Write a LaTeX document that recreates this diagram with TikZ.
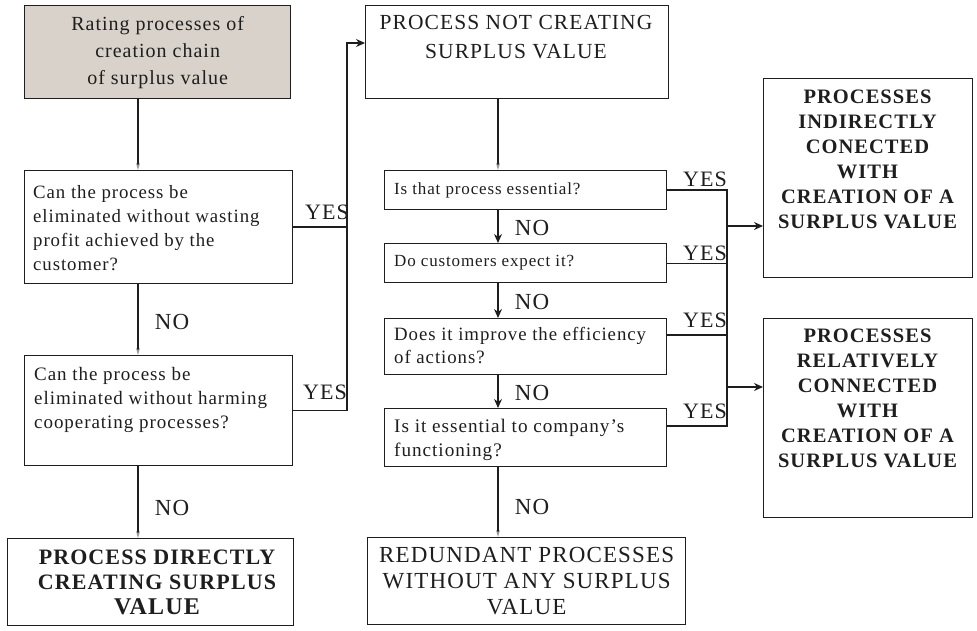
\documentclass[tikz,border=0pt]{standalone}
\usepackage{fontspec}
\setmainfont[LetterSpace=5]{Liberation Serif}
\usetikzlibrary{arrows.meta,calc}
\definecolor{lc}{RGB}{30,30,30}
\definecolor{boxfill}{RGB}{216,210,202}
\tikzset{
  box/.style={draw=lc, line width=1.3pt, inner sep=0pt, anchor=north west},
  txt/.style={inner sep=0pt, text=lc},
  lbl/.style={inner sep=0pt, text=lc, font=\fontsize{22}{24}\selectfont},
  nolbl/.style={inner sep=0pt, text=lc, font=\fontsize{23}{24}\selectfont},
  conn/.style={draw=lc, line width=1.3pt},
  bigarrow/.style={-{Stealth[length=9pt,width=8pt]}},
  faint/.style={-{Stealth[length=7pt,width=4pt,color=gray!80]}},
}
\begin{document}
\begin{tikzpicture}[x=1pt,y=-1pt]
\useasboundingbox (0,0) rectangle (977,631);
% left column
\node[box, fill=boxfill, minimum width=266, minimum height=93, align=center,
      text=lc, font=\fontsize{20}{27}\selectfont] (b1) at (24,5)
      {Rating processes of\\creation chain\\of surplus value};
\node[box, minimum width=268, minimum height=113] (b2) at (24,170) {};
\node[txt, anchor=west, align=left, font=\fontsize{18.8}{24}\selectfont] (t2) at (33,228)
      {Can the process be\\eliminated without wasting\\profit achieved by the\\customer?};
\node[box, minimum width=268, minimum height=110] (b3) at (24,355) {};
\node[txt, anchor=north west, align=left, font=\fontsize{19}{24}\selectfont] (t3) at (34,367)
      {Can the process be\\eliminated without harming\\cooperating processes?};
\node[box, minimum width=286, minimum height=87] (b4) at (7,538) {};
\node[txt, align=center, font=\bfseries\fontsize{22}{25}\selectfont] (t4) at (157,582)
      {PROCESS DIRECTLY\\CREATING SURPLUS\\{\fontsize{24}{25}\selectfont VALUE}};
% middle column
\node[box, minimum width=303, minimum height=93] (b5) at (365,5) {};
\node[txt, anchor=north, align=center, font=\fontsize{21.5}{29}\selectfont] (t5) at (516,15)
      {PROCESS NOT CREATING\\SURPLUS VALUE};
\node[box, minimum width=282, minimum height=39] (b6) at (384,170) {};
\node[txt, anchor=west, font=\fontsize{17}{20}\selectfont] (t6) at (394,190)
      {Is that process essential?};
\node[box, minimum width=282, minimum height=39] (b7) at (384,243) {};
\node[txt, anchor=west, font=\fontsize{17}{20}\selectfont] (t7) at (394,263)
      {Do customers expect it?};
\node[box, minimum width=282, minimum height=56] (b8) at (384,318) {};
\node[txt, anchor=west, align=left, font=\fontsize{18.8}{23}\selectfont] (t8) at (394,346)
      {Does it improve the efficiency\\of actions?};
\node[box, minimum width=282, minimum height=58] (b9) at (384,408) {};
\node[txt, anchor=west, align=left, font=\fontsize{19.2}{24}\selectfont] (t9) at (394,440)
      {Is it essential to company's\\functioning?};
\node[box, minimum width=318, minimum height=87, align=center, text=lc,
      font=\fontsize{23}{26}\selectfont] (b10) at (367,537)
      {REDUNDANT PROCESSES\\WITHOUT ANY SURPLUS\\VALUE};
% right column
\node[box, minimum width=209, minimum height=199] (b11) at (763,78) {};
\node[txt, anchor=north, align=center, font=\bfseries\fontsize{20.5}{25}\selectfont] (t11) at (867.5,90)
      {PROCESSES\\INDIRECTLY\\CONECTED\\WITH\\CREATION OF A\\SURPLUS VALUE};
\node[box, minimum width=209, minimum height=199] (b12) at (763,318) {};
\node[txt, anchor=north, align=center, font=\bfseries\fontsize{20.5}{25}\selectfont] (t12) at (867.5,329)
      {PROCESSES\\RELATIVELY\\CONNECTED\\WITH\\CREATION OF A\\SURPLUS VALUE};
% helper coordinates
\coordinate (lx) at (138,0);
\coordinate (jx) at (347,0);
\coordinate (mx) at (498,0);
\coordinate (rx) at (727,0);
\coordinate (b5in) at ($(b5.north west)+(0,38)$);
\coordinate (b8out) at ($(b8.north east)+(0,17)$);
\coordinate (b9out) at ($(b9.north east)+(0,18)$);
\coordinate (b11in) at ($(b11.north west)+(0,148)$);
\coordinate (b12in) at ($(b12.north west)+(0,69)$);
% left connectors
\draw[conn, faint] (b1.south -| lx) -- (b2.north -| lx);
\draw[conn, faint] (b2.south -| lx) -- (b3.north -| lx);
\draw[conn, faint] (b3.south -| lx) -- (b4.north -| lx);
\draw[conn, bigarrow] (b2.east) -| (jx |- b5in) -- (b5in);
\draw[conn] (b3.east) -| (jx |- b2.east);
% middle connectors
\draw[conn, faint] (b5.south -| mx) -- (b6.north -| mx);
\draw[conn, bigarrow] (b6.south -| mx) -- (b7.north -| mx);
\draw[conn, bigarrow] (b7.south -| mx) -- (b8.north -| mx);
\draw[conn, bigarrow] (b8.south -| mx) -- (b9.north -| mx);
\draw[conn, faint] (b9.south -| mx) -- (b10.north -| mx);
% right connectors
\draw[conn] (b6.east) -| (rx |- b9out) -- (b9out);
\draw[conn] (b7.east) -- (b7.east -| rx);
\draw[conn] (b8out) -- (b8out -| rx);
\draw[conn, bigarrow] (rx |- b11in) -- (b11in);
\draw[conn, bigarrow] (rx |- b12in) -- (b12in);
% labels
\node[lbl] (y1) at (327,212) {YES};
\node[lbl] (y2) at (325,392) {YES};
\node[lbl] (y3) at (705,179) {YES};
\node[lbl] (y4) at (705,253) {YES};
\node[lbl] (y5) at (705,320) {YES};
\node[lbl] (y6) at (705,411) {YES};
\node[nolbl] (n1) at (172,322) {NO};
\node[nolbl] (n2) at (172,508) {NO};
\node[nolbl] (n3) at (532,228) {NO};
\node[nolbl] (n4) at (532,302) {NO};
\node[nolbl] (n5) at (532,393) {NO};
\node[nolbl] (n6) at (532,507) {NO};
\end{tikzpicture}
\end{document}
